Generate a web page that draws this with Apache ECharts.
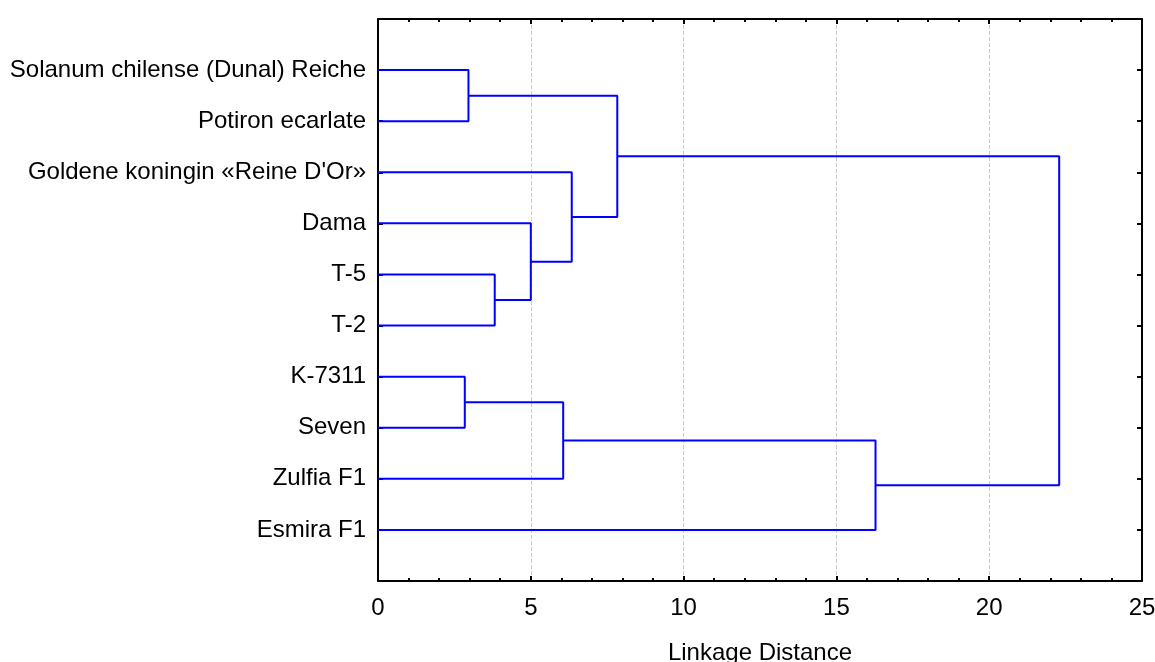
<!DOCTYPE html>
<html>
<head>
<meta charset="utf-8">
<script src="https://cdn.jsdelivr.net/npm/echarts@6/dist/echarts.min.js"></script>
<style>
  html, body { margin: 0; padding: 0; background: #fff; }
  #main { width: 1155px; height: 662px; }
</style>
</head>
<body>
<div id="main"></div>
<script>
// leaf names, top to bottom
var leaves = [
  'Solanum chilense (Dunal) Reiche',
  'Potiron ecarlate',
  'Goldene koningin «Reine D\'Or»',
  'Dama',
  'T-5',
  'T-2',
  'K-7311',
  'Seven',
  'Zulfia F1',
  'Esmira F1'
];

// merges: [child A, child B, linkage distance]; ids 0-9 are leaves, 10+ are earlier merges
var mergeA = [0, 4, 6, 3, 12, 2, 10, 14, 16];
var mergeB = [1, 5, 7, 11, 8, 13, 15, 9, 17];
var mergeDist = [2.96, 3.82, 2.84, 5.0, 6.06, 6.34, 7.83, 16.28, 22.29];

var xTicks = [0, 5, 10, 15, 20, 25];

var chart = echarts.init(document.getElementById('main'));

// node positions: x = height, y = row (1..10)
var nodeX = [], nodeY = [];
leaves.forEach(function (name, i) {
  nodeX.push(0);
  nodeY.push(i + 1);
});

var series = [];
for (var m = 0; m < mergeDist.length; m++) {
  var a = mergeA[m], b = mergeB[m], d = mergeDist[m];
  series.push({
    type: 'line',
    symbol: 'none',
    animation: false,
    lineStyle: { color: '#0000ff', width: 2 },
    data: [
      [nodeX[a], nodeY[a]],
      [d, nodeY[a]],
      [d, nodeY[b]],
      [nodeX[b], nodeY[b]]
    ]
  });
  nodeX.push(d);
  nodeY.push((nodeY[a] + nodeY[b]) / 2);
}

var axisFont = { fontFamily: 'Liberation Sans', fontSize: 24, color: '#000' };
var blackLine = { color: '#000', width: 2 };

var option = {
  backgroundColor: '#fff',
  grid: { left: 378, right: 13, top: 19, bottom: 81, outerBoundsMode: 'none', containLabel: false },
  xAxis: [
    {
      type: 'value',
      min: xTicks[0],
      max: xTicks[xTicks.length - 1],
      interval: 5,
      name: 'Linkage Distance',
      nameLocation: 'middle',
      nameGap: 60,
      nameTextStyle: axisFont,
      axisLine: { onZero: false, lineStyle: blackLine },
      axisTick: { inside: true, length: 5, lineStyle: blackLine },
      minorTick: { show: true, splitNumber: 5, length: 3, lineStyle: blackLine },
      axisLabel: Object.assign({ margin: 15 }, axisFont),
      splitLine: { show: true, lineStyle: { color: '#cccccc', type: 'dashed', width: 1 } }
    },
    {
      type: 'value',
      position: 'top',
      min: xTicks[0],
      max: xTicks[xTicks.length - 1],
      interval: 5,
      axisLine: { show: true, onZero: false, lineStyle: blackLine },
      axisTick: { inside: true, length: 5, lineStyle: blackLine },
      minorTick: { show: true, splitNumber: 5, length: 3, lineStyle: blackLine },
      axisLabel: { show: false },
      splitLine: { show: false }
    }
  ],
  yAxis: [
    {
      type: 'value',
      inverse: true,
      min: 0,
      max: leaves.length + 1,
      interval: 1,
      axisLine: { show: true, onZero: false, lineStyle: blackLine },
      axisTick: { inside: true, length: 5, lineStyle: blackLine },
      axisLabel: Object.assign({
        margin: 12,
        formatter: function (v) { return leaves[v - 1] || ''; }
      }, axisFont),
      splitLine: { show: false }
    },
    {
      type: 'value',
      position: 'right',
      inverse: true,
      min: 0,
      max: leaves.length + 1,
      interval: 1,
      axisLine: { show: true, onZero: false, lineStyle: blackLine },
      axisTick: { inside: true, length: 5, lineStyle: blackLine },
      axisLabel: { show: false },
      splitLine: { show: false }
    }
  ],
  series: series
};

chart.setOption(option);
</script>
</body>
</html>
